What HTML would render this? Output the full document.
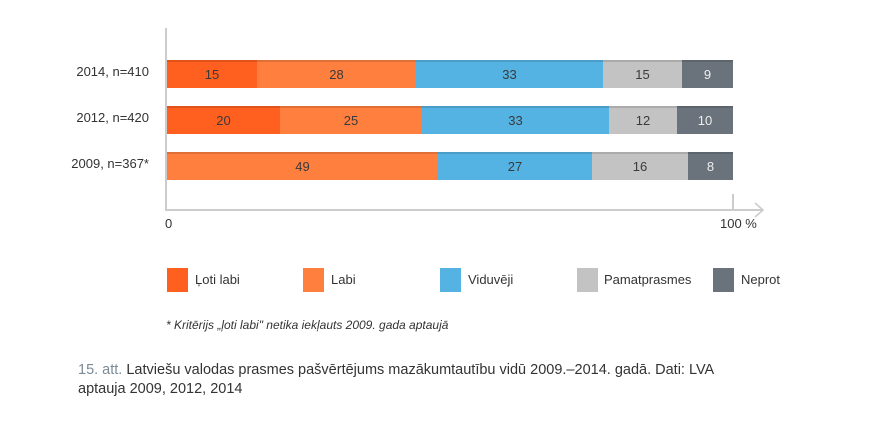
<!DOCTYPE html>
<html><head><meta charset="utf-8"><style>
body{margin:0;width:881px;height:447px;background:#fff;font-family:"Liberation Sans",sans-serif;color:#333;position:relative;overflow:hidden}
.a{position:absolute}
.row{position:absolute;left:167px;height:28px;width:566px;display:flex}
.row div{height:28px;line-height:29px;text-align:center;font-size:13px;color:#3a3a3a;box-shadow:inset 0 2px 0 rgba(0,0,0,.12)}
.lab{position:absolute;font-size:13px;color:#333;right:732px;text-align:right;white-space:nowrap}
.sw{position:absolute;width:21px;height:24px;top:268px}
.lt{position:absolute;top:272px;font-size:13px;color:#333}
</style></head><body>
<div class="a" style="left:165px;top:28px;width:2px;height:183px;background:#ccc"></div>
<div class="a" style="left:165px;top:209px;width:598px;height:2px;background:#ccc"></div>
<svg class="a" style="left:752px;top:202px" width="16" height="16"><polyline points="3,1 11,8 3,15" fill="none" stroke="#ccc" stroke-width="1.6"/></svg>
<div class="a" style="left:732px;top:194px;width:2px;height:16px;background:#ccc"></div>
<div class="lab" style="top:64px">2014, n=410</div>
<div class="lab" style="top:110px">2012, n=420</div>
<div class="lab" style="top:156px">2009, n=367*</div>
<div class="row" style="top:60px"><div style="width:90px;background:#ff5f1f">15</div><div style="width:159px;background:#ff7f3f">28</div><div style="width:187px;background:#54b3e3">33</div><div style="width:79px;background:#c3c3c3">15</div><div style="width:51px;background:#6a737b;color:#eee">9</div></div>
<div class="row" style="top:106px"><div style="width:113px;background:#ff5f1f">20</div><div style="width:142px;background:#ff7f3f">25</div><div style="width:187px;background:#54b3e3">33</div><div style="width:68px;background:#c3c3c3">12</div><div style="width:56px;background:#6a737b;color:#eee">10</div></div>
<div class="row" style="top:152px"><div style="width:271px;background:#ff7f3f">49</div><div style="width:154px;background:#54b3e3">27</div><div style="width:96px;background:#c3c3c3">16</div><div style="width:45px;background:#6a737b;color:#eee">8</div></div>
<div class="a" style="left:165px;top:216px;font-size:13px">0</div>
<div class="a" style="left:720px;top:216px;font-size:13px">100 %</div>
<div class="sw" style="left:167px;background:#ff5f1f"></div><div class="lt" style="left:195px">Ļoti labi</div>
<div class="sw" style="left:303px;background:#ff7f3f"></div><div class="lt" style="left:331px">Labi</div>
<div class="sw" style="left:440px;background:#54b3e3"></div><div class="lt" style="left:468px">Viduvēji</div>
<div class="sw" style="left:577px;background:#c3c3c3"></div><div class="lt" style="left:604px">Pamatprasmes</div>
<div class="sw" style="left:713px;background:#6a737b"></div><div class="lt" style="left:741px">Neprot</div>
<div class="a" style="left:166px;top:318px;font-size:12px;font-style:italic;color:#333">* Kritērijs „ļoti labi" netika iekļauts 2009. gada aptaujā</div>
<div class="a" style="left:78px;top:361px;width:700px;font-size:14.5px;line-height:19px;color:#333"><span style="color:#7a8a96">15. att.</span> Latviešu valodas prasmes pašvērtējums mazākumtautību vidū 2009.–2014. gadā. Dati: LVA<br>aptauja 2009, 2012, 2014</div>
</body></html>
